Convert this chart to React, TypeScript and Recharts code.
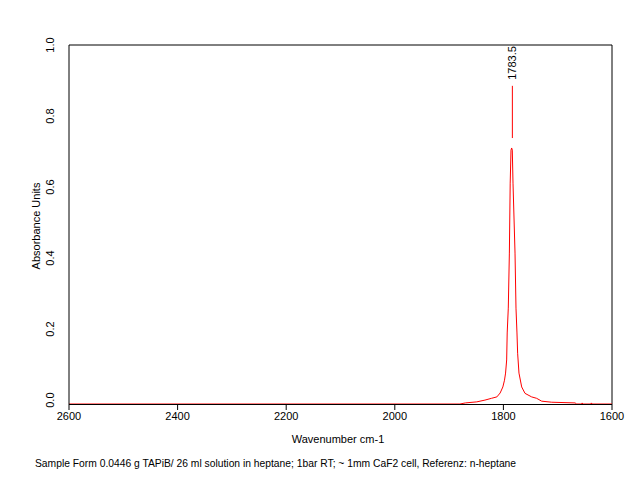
import React from "react";
import { LineChart, Line, XAxis, YAxis, ReferenceLine } from "recharts";

// spectrum (wavenumber cm-1 -> absorbance)
const wavenumbers = [
  2600, 1880, 1870, 1849, 1834, 1822, 1812, 1806, 1801, 1798, 1796, 1794, 1793, 1791, 1789, 1787.5, 1786, 1784.8,
  1783.6, 1782.3, 1778.6, 1776.8, 1775, 1773.8, 1771.3, 1766.3, 1760.2, 1748, 1738.8, 1729.5, 1711, 1668, 1665, 1656,
  1655, 1654, 1639, 1638, 1637, 1600,
];
const absorbance = [
  -0.011, -0.011, -0.008, -0.005, 0.0, 0.005, 0.009, 0.02, 0.037, 0.056, 0.076, 0.113, 0.189, 0.259, 0.414, 0.611, 0.704,
  0.71, 0.704, 0.611, 0.414, 0.259, 0.189, 0.132, 0.076, 0.037, 0.019, 0.009, 0.005, -0.003, -0.006, -0.008, -0.011,
  -0.011, -0.008, -0.011, -0.011, -0.008, -0.011, -0.011,
];

const xTicks = [2600, 2400, 2200, 2000, 1800, 1600];
const yTicks = [0, 0.2, 0.4, 0.6, 0.8, 1.0];
const yMin = -0.011;

const peakPosition = 1783.5;
const peakLabel = "1783.5";
const peakMarker = [0.738, 0.885];

const footnote = "Sample Form 0.0446 g TAPiB/ 26 ml solution in heptane; 1bar RT; ~ 1mm CaF2 cell, Referenz: n-heptane";

const FONT = "'Liberation Sans', Arial, sans-serif";

const data = wavenumbers.map((wn, i) => ({ wn, a: absorbance[i] }));

const YTick = (props: any) => {
  const { x, y, payload } = props;
  const tx = x - 7;
  return (
    <text x={tx} y={y} transform={`rotate(-90 ${tx} ${y})`} textAnchor="middle" fontSize={11} fontFamily={FONT} fill="#000">
      {payload.value.toFixed(1)}
    </text>
  );
};

const PeakLabel = (props: any) => {
  const { viewBox } = props;
  const x = viewBox.x + 4;
  const y = 63;
  return (
    <text x={x} y={y} transform={`rotate(-90 ${x} ${y})`} textAnchor="middle" fontSize={11} fontFamily={FONT} fill="#000">
      {peakLabel}
    </text>
  );
};

export default function App() {
  return (
    <div style={{ position: "absolute", left: 0, top: 0, width: 642, height: 496, background: "#fff" }}>
      {/* bottom frame line sits behind the chart svg so the red baseline covers it like in the original */}
      <div style={{ position: "absolute", left: 69, top: 403.5, width: 543, height: 1, background: "#000" }} />
      <LineChart width={642} height={496} data={data} margin={{ top: 45, right: 30, bottom: 72, left: 19 }}>
        <XAxis
          dataKey="wn"
          type="number"
          domain={[1600, 2600]}
          reversed
          ticks={xTicks}
          interval={0}
          height={20}
          stroke="#000"
          axisLine={false}
          tickSize={6}
          tick={{ fontSize: 11, fontFamily: FONT, fill: "#000" }}
          allowDataOverflow
        />
        <YAxis
          type="number"
          domain={[yMin, 1]}
          ticks={yTicks}
          width={50}
          stroke="#000"
          tickLine={false}
          tick={<YTick />}
          allowDataOverflow
        />
        <ReferenceLine y={1} stroke="#000" />
        <ReferenceLine x={1600} stroke="#000" />
        <ReferenceLine
          segment={[
            { x: peakPosition, y: peakMarker[0] },
            { x: peakPosition, y: peakMarker[1] },
          ]}
          stroke="#ff0000"
          label={<PeakLabel />}
        />
        <Line dataKey="a" type="linear" stroke="#ff0000" strokeWidth={1} dot={false} isAnimationActive={false} />
      </LineChart>
      <div
        style={{
          position: "absolute",
          left: 36,
          top: 226,
          transform: "translate(-50%, -50%) rotate(-90deg)",
          fontFamily: FONT,
          fontSize: 11,
          whiteSpace: "nowrap",
        }}
      >
        Absorbance Units
      </div>
      <div
        style={{
          position: "absolute",
          left: 338,
          top: 439,
          transform: "translate(-50%, -50%)",
          fontFamily: FONT,
          fontSize: 11,
          whiteSpace: "nowrap",
        }}
      >
        Wavenumber cm-1
      </div>
      <div style={{ position: "absolute", left: 35, top: 458, fontFamily: FONT, fontSize: 10.3, whiteSpace: "nowrap" }}>
        {footnote}
      </div>
    </div>
  );
}
